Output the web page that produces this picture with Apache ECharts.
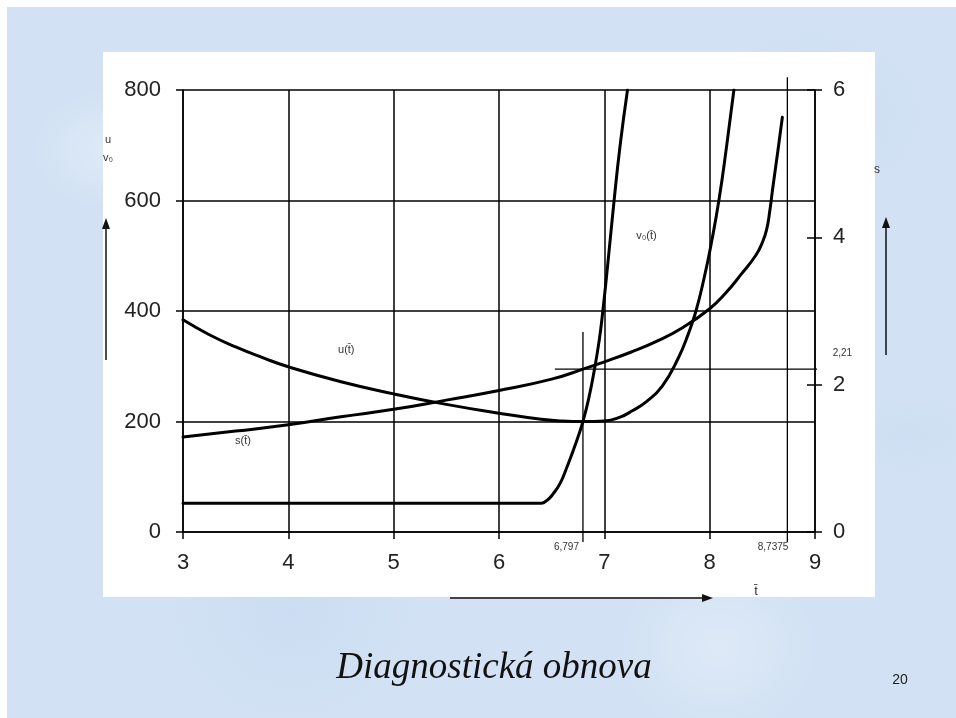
<!DOCTYPE html>
<html><head><meta charset="utf-8">
<script src="https://cdn.jsdelivr.net/npm/echarts@6/dist/echarts.min.js"></script>
<style>
html,body{margin:0;padding:0;width:956px;height:718px;overflow:hidden;background:#fff;}
#bg{position:absolute;left:7px;top:7px;width:949px;height:711px;
 background-color:#d2e2f4;
 background-image:
  radial-gradient(ellipse at 12% 20%, rgba(255,255,255,0.3) 0, rgba(255,255,255,0) 90px),
  radial-gradient(ellipse at 85% 15%, rgba(190,212,238,0.4) 0, rgba(190,212,238,0) 110px),
  radial-gradient(ellipse at 30% 85%, rgba(195,215,240,0.45) 0, rgba(195,215,240,0) 120px),
  radial-gradient(ellipse at 75% 90%, rgba(255,255,255,0.25) 0, rgba(255,255,255,0) 100px),
  radial-gradient(ellipse at 95% 60%, rgba(200,218,240,0.45) 0, rgba(200,218,240,0) 80px);
}
#panel{position:absolute;left:103px;top:52px;width:772px;height:545px;background:#fff;}
#chart{position:absolute;left:0;top:0;width:956px;height:718px;}
</style></head><body>
<div id="bg"></div><div id="panel"></div><div id="chart"></div>
<script>
// ---- data ----
const xTicks = [3, 4, 5, 6, 7, 8, 9];
const leftTicks = [0, 200, 400, 600, 800];
const rightTicks = [0, 2, 4, 6];

// u(t) on left axis
const uT   = [3, 3.25, 3.5, 3.75, 4, 4.5, 5, 5.5, 6, 6.4, 6.6, 6.8, 7.0, 7.15, 7.27, 7.4, 7.55, 7.7, 7.8, 7.87, 7.95, 8.02, 8.09, 8.16, 8.23];
const uVal = [384, 357, 335, 316, 299, 272, 250, 231, 215, 204, 201, 200, 201, 208, 220, 236, 264, 314, 360, 400, 462, 527, 603, 697, 800];

// v0(t) on left axis
const v0T   = [3, 6.4, 6.46, 6.51, 6.58, 6.64, 6.7, 6.75, 6.797, 6.85, 6.905, 6.95, 6.98, 7.03, 7.09, 7.15, 7.22];
const v0Val = [52, 52, 58, 68, 88, 115, 145, 172, 200, 240, 293, 345, 390, 480, 595, 700, 800];

// s(t) on right axis
const sT   = [3, 3.5, 4, 4.5, 5, 5.5, 6, 6.5, 6.797, 7.0, 7.25, 7.5, 7.75, 8.0, 8.15, 8.3, 8.44, 8.5, 8.54, 8.57, 8.6, 8.65, 8.69];
const sVal = [1.29, 1.37, 1.455, 1.565, 1.665, 1.79, 1.92, 2.075, 2.21, 2.31, 2.44, 2.59, 2.78, 3.03, 3.24, 3.5, 3.76, 3.93, 4.1, 4.35, 4.68, 5.2, 5.63];

const tOpt1 = 6.797, tOpt2 = 8.7375, sOpt = 2.21;
const marker1T = [tOpt1, tOpt1], marker1V = [-18, 362];
const marker2T = [tOpt2, tOpt2], marker2V = [-18, 823];
const markerST = [6.53, 9.13], markerSV = [sOpt, sOpt];
const markerLabels = ['6,797', '8,7375', '2,21'];

const titleText = 'Diagnostická obnova';
const pageNo = '20';

// ---- chart ----
const zip = (a, b) => a.map((v, i) => [v, b[i]]);
const chart = echarts.init(document.getElementById('chart'), null, {renderer: 'canvas'});
const FONT = 'Liberation Sans, Arial, sans-serif';
const black = '#000';
const curve = (name, data, yi) => ({
  name, type: 'line', data, yAxisIndex: yi, showSymbol: false, smooth: 0.5,
  lineStyle: {color: black, width: 3, join: 'round', cap: 'round'}, z: 5, animation: false
});
const thin = (name, data, yi) => ({
  name, type: 'line', data, yAxisIndex: yi, showSymbol: false, clip: false,
  lineStyle: {color: black, width: 1.3}, z: 4, animation: false
});

chart.setOption({
  animation: false,
  backgroundColor: 'transparent',
  grid: {left: 183, right: 141, top: 90, bottom: 186},
  xAxis: {
    type: 'value', min: xTicks[0], max: xTicks[xTicks.length - 1], interval: 1,
    axisLine: {show: true, lineStyle: {color: black, width: 1.5}},
    axisTick: {show: true, length: 7, lineStyle: {color: black, width: 1.5}},
    axisLabel: {fontFamily: FONT, fontSize: 22, color: '#222', margin: 20},
    splitLine: {show: true, lineStyle: {color: black, width: 1.5}}
  },
  yAxis: [{
    type: 'value', min: leftTicks[0], max: leftTicks[leftTicks.length - 1], interval: 200,
    axisLine: {show: true, lineStyle: {color: black, width: 1.5}},
    axisTick: {show: true, length: 7, lineStyle: {color: black, width: 1.5}},
    axisLabel: {fontFamily: FONT, fontSize: 22, color: '#222', margin: 22},
    splitLine: {show: true, lineStyle: {color: black, width: 1.5}}
  }, {
    type: 'value', position: 'right', min: rightTicks[0], max: rightTicks[rightTicks.length - 1], interval: 2,
    axisLine: {show: true, lineStyle: {color: black, width: 1.5}},
    axisTick: {show: true, length: 7, lineStyle: {color: black, width: 1.5}},
    axisLabel: {fontFamily: FONT, fontSize: 22, color: '#222', margin: 18},
    splitLine: {show: false}
  }, {
    type: 'value', position: 'right', min: rightTicks[0], max: rightTicks[rightTicks.length - 1], interval: 2,
    axisLine: {show: false},
    axisTick: {show: true, inside: true, length: 8, lineStyle: {color: black, width: 1.5}},
    axisLabel: {show: false},
    splitLine: {show: false}
  }],
  series: [
    curve('u', zip(uT, uVal), 0),
    curve('v0', zip(v0T, v0Val), 0),
    curve('s', zip(sT, sVal), 1),
    thin('m1', zip(marker1T, marker1V), 0),
    thin('m2', zip(marker2T, marker2V), 0),
    thin('ms', zip(markerST, markerSV), 1)
  ]
});

// ---- annotations positioned through the chart's scales ----
const p = (x, y, yi) => chart.convertToPixel({xAxisIndex: 0, yAxisIndex: yi}, [x, y]);
const small = (text, x, y, align, size) => ({
  type: 'text', x, y, z: 20,
  style: {text, fontFamily: FONT, fontSize: size || 10, fill: '#333', align: align || 'center', verticalAlign: 'middle'}
});
const m1 = p(tOpt1, -27, 0), m2 = p(tOpt2, -27, 0), ms = p(markerST[1], sOpt, 1);
const uLab = p(4.55, 330, 0), sLab = p(3.57, 165, 0), vLab = p(7.4, 535, 0);
const arrowHead = (x, y, dir) => {
  const pts = dir === 'up' ? [[x, y], [x - 4, y + 11], [x + 4, y + 11]] : [[x, y], [x - 11, y - 4], [x - 11, y + 4]];
  return {type: 'polygon', z: 20, shape: {points: pts}, style: {fill: '#111'}};
};
const line = (x1, y1, x2, y2) => ({type: 'line', z: 20, shape: {x1, y1, x2, y2}, style: {stroke: '#111', lineWidth: 1.5}});

chart.setOption({
  graphic: [
    small(markerLabels[0], m1[0] - 4, m1[1], 'right'),
    small(markerLabels[1], m2[0] + 1, m2[1], 'right'),
    small(markerLabels[2], ms[0] + 4, ms[1] - 16, 'left'),
    small('u(t\u0304)', uLab[0], uLab[1], 'center', 11),
    small('s(t\u0304)', sLab[0], sLab[1], 'center', 11),
    small('v\u2080(t\u0304)', vLab[0], vLab[1], 'center', 11),
    small('u', 108, 140, 'center', 11),
    small('v\u2080', 108, 158, 'center', 11),
    small('s', 877, 170, 'center', 12),
    small('t\u0304', 756, 591, 'center', 13),
    line(106, 360, 106, 228), arrowHead(106, 218, 'up'),
    line(886, 355, 886, 227), arrowHead(886, 217, 'up'),
    line(450, 598, 702, 598), arrowHead(713, 598, 'right'),
    {type: 'text', x: 494, y: 668, z: 20,
     style: {text: titleText, fontFamily: 'Liberation Serif, Times New Roman, serif', fontStyle: 'italic',
             fontSize: 37, fill: '#111', align: 'center', verticalAlign: 'middle'}},
    {type: 'text', x: 900, y: 680, z: 20,
     style: {text: pageNo, fontFamily: FONT, fontSize: 14, fill: '#222', align: 'center', verticalAlign: 'middle'}}
  ]
});
</script>
</body></html>
